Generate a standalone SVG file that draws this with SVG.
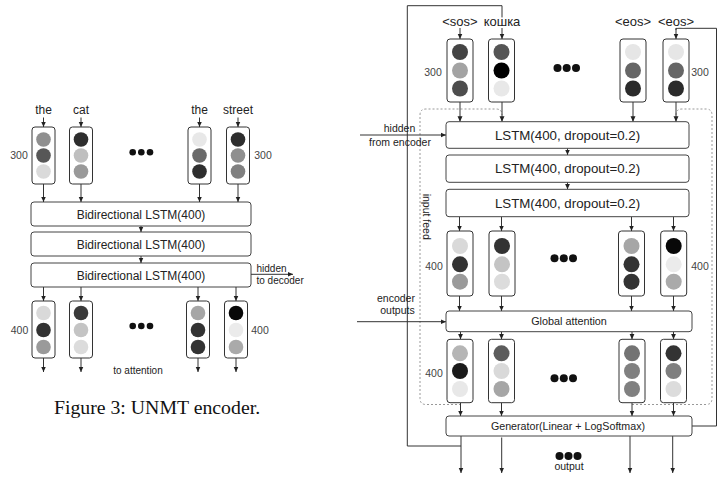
<svg xmlns="http://www.w3.org/2000/svg" width="718" height="488" viewBox="0 0 718 488">
<defs>
<marker id="ah" viewBox="0 0 6 6" refX="6" refY="3" markerWidth="5.5" markerHeight="5.5" orient="auto" markerUnits="userSpaceOnUse"><path d="M0,0.3 L6,3 L0,5.7 z" fill="#222"/></marker>
<style>
text{font-family:"Liberation Sans",Arial,sans-serif;fill:#222}
.cell{fill:#fff;stroke:#333;stroke-width:1}
.box{fill:#fff;stroke:#444;stroke-width:1}
.ln{fill:none;stroke:#333;stroke-width:1}
.arr{fill:none;stroke:#333;stroke-width:1;marker-end:url(#ah)}
.dot{fill:none;stroke:#999;stroke-width:1;stroke-dasharray:2 2}
.w{font-size:12px;text-anchor:middle}
.wd{font-size:13px;text-anchor:middle;paint-order:stroke;stroke:#fff;stroke-width:3px}
.n{font-size:10.5px;text-anchor:middle;fill:#444}
.s{font-size:10px;text-anchor:middle}
.dd{fill:#111}
</style>
</defs>

<!-- ===== Encoder (left) ===== -->
<g id="enc-words">
<text class="w" x="43.5" y="114">the</text>
<text class="w" x="81" y="114">cat</text>
<text class="w" x="199.5" y="114">the</text>
<text class="w" x="238" y="114">street</text>
</g>
<g id="enc-in-1"><rect class="cell" x="32" y="127" width="23" height="57" rx="3"/><circle cx="43.5" cy="139.5" r="7.3" fill="#8f8f8f"/><circle cx="43.5" cy="155.5" r="7.3" fill="#575757"/><circle cx="43.5" cy="171.5" r="7.3" fill="#dadada"/></g>
<g id="enc-in-2"><rect class="cell" x="69.5" y="127" width="23" height="57" rx="3"/><circle cx="81" cy="139.5" r="7.3" fill="#2e2e2e"/><circle cx="81" cy="155.5" r="7.3" fill="#bfbfbf"/><circle cx="81" cy="171.5" r="7.3" fill="#999"/></g>
<g id="enc-in-3"><rect class="cell" x="188" y="127" width="23" height="57" rx="3"/><circle cx="199.5" cy="139.5" r="7.3" fill="#e8e8e8"/><circle cx="199.5" cy="155.5" r="7.3" fill="#6a6a6a"/><circle cx="199.5" cy="171.5" r="7.3" fill="#2e2e2e"/></g>
<g id="enc-in-4"><rect class="cell" x="226.5" y="127" width="23" height="57" rx="3"/><circle cx="238" cy="139.5" r="7.3" fill="#2e2e2e"/><circle cx="238" cy="155.5" r="7.3" fill="#8f8f8f"/><circle cx="238" cy="171.5" r="7.3" fill="#808080"/></g>
<g id="enc-labels">
<text class="n" x="19" y="159">300</text>
<text class="n" x="263" y="159">300</text>
<circle class="dd" cx="132.7" cy="152.3" r="3.3"/><circle class="dd" cx="141.3" cy="152.3" r="3.3"/><circle class="dd" cx="150" cy="152.3" r="3.3"/>
<text class="n" x="19.5" y="334">400</text>
<text class="n" x="260" y="334">400</text>
<circle class="dd" cx="132.7" cy="326" r="3.3"/><circle class="dd" cx="141.3" cy="326" r="3.3"/><circle class="dd" cx="150" cy="326" r="3.3"/>
<text class="s" x="256.5" y="272" style="text-anchor:start">hidden</text>
<text class="s" x="256.5" y="284" style="text-anchor:start">to decoder</text>
<text class="s" x="138" y="373.5">to attention</text>
</g>
<g id="enc-lstm-1"><rect class="box" x="31" y="202" width="220" height="24" rx="3"/><text x="141" y="218.5" style="font-size:12px;text-anchor:middle">Bidirectional LSTM(400)</text></g>
<g id="enc-lstm-2"><rect class="box" x="31" y="232" width="220" height="24" rx="3"/><text x="141" y="248.5" style="font-size:12px;text-anchor:middle">Bidirectional LSTM(400)</text></g>
<g id="enc-lstm-3"><rect class="box" x="31" y="263" width="220" height="24" rx="3"/><text x="141" y="279.5" style="font-size:12px;text-anchor:middle">Bidirectional LSTM(400)</text></g>
<g id="enc-out-1"><rect class="cell" x="32" y="301" width="23" height="57" rx="3"/><circle cx="43.5" cy="313" r="7.3" fill="#d9d9d9"/><circle cx="43.5" cy="330" r="7.3" fill="#333"/><circle cx="43.5" cy="347" r="7.3" fill="#9a9a9a"/></g>
<g id="enc-out-2"><rect class="cell" x="69.5" y="301" width="23" height="57" rx="3"/><circle cx="81" cy="313" r="7.3" fill="#3a3a3a"/><circle cx="81" cy="330" r="7.3" fill="#c4c4c4"/><circle cx="81" cy="347" r="7.3" fill="#dcdcdc"/></g>
<g id="enc-out-3"><rect class="cell" x="186.5" y="301" width="23" height="57" rx="3"/><circle cx="198" cy="313" r="7.3" fill="#a6a6a6"/><circle cx="198" cy="330" r="7.3" fill="#333"/><circle cx="198" cy="347" r="7.3" fill="#333"/></g>
<g id="enc-out-4"><rect class="cell" x="224.5" y="301" width="23" height="57" rx="3"/><circle cx="236" cy="313" r="7.3" fill="#080808"/><circle cx="236" cy="330" r="7.3" fill="#ebebeb"/><circle cx="236" cy="347" r="7.3" fill="#aaa"/></g>

<text id="caption" x="157" y="414" style="font-family:'Liberation Serif','Times New Roman',serif;font-size:19.8px;text-anchor:middle;fill:#111">Figure 3: UNMT encoder.</text>

<g id="enc-connectors">
<path class="arr" d="M43.5,117.5 V127"/><path class="arr" d="M81,117.5 V127"/><path class="arr" d="M199.5,117.5 V127"/><path class="arr" d="M238,117.5 V127"/>
<path class="arr" d="M43.5,184 V202"/><path class="arr" d="M81,184 V202"/><path class="arr" d="M199.5,184 V202"/><path class="arr" d="M238,184 V202"/>
<path class="arr" d="M141,226 V232"/><path class="arr" d="M141,256 V263"/>
<path class="arr" d="M251,274.3 H293"/>
<path class="arr" d="M43.5,287 V301"/><path class="arr" d="M81,287 V301"/><path class="arr" d="M198,287 V301"/><path class="arr" d="M236,287 V301"/>
<path class="arr" d="M43.5,358 V372"/><path class="arr" d="M81,358 V372"/><path class="arr" d="M198,358 V372"/><path class="arr" d="M236,358 V372"/>
</g>

<!-- ===== Decoder (right) ===== -->
<g id="dec-connectors">
<path class="dot" d="M461,404.5 H426 Q420,404.5 420,398.5 V115 Q420,109 426,109 H496 Q502,109 502,115"/>
<path class="dot" d="M632,404.5 H706 Q712,404.5 712,398.5 V115 Q712,109 706,109 H682 Q676,109 676,115"/>
<path class="ln" d="M461,446 H407.3 V5.7 H502 V20"/>
<path class="arr" d="M502,28 V39"/>
<path class="ln" d="M692,426 H716.5 V28.3 H676 V30"/>
<path class="arr" d="M676,28.3 V39"/>
<path class="arr" d="M460,28 V39"/>
<path class="arr" d="M460,102 V121.7"/><path class="arr" d="M502,102 V121.7"/><path class="arr" d="M633,102 V121.7"/><path class="arr" d="M676,102 V121.7"/>
<path class="arr" d="M567.5,148.3 V155"/><path class="arr" d="M567.5,182.3 V189.3"/>
<path class="arr" d="M360,135 H446"/>
<path class="arr" d="M459.5,216.7 V231"/><path class="arr" d="M501.5,216.7 V231"/><path class="arr" d="M631.5,216.7 V231"/><path class="arr" d="M673.5,216.7 V231"/>
<path class="arr" d="M459.5,296 V311"/><path class="arr" d="M501.5,296 V311"/><path class="arr" d="M631.5,296 V311"/><path class="arr" d="M673.5,296 V311"/>
<path class="arr" d="M357,321.7 H446"/>
<path class="arr" d="M460.5,331.7 V339.3"/><path class="arr" d="M501.5,331.7 V339.3"/><path class="arr" d="M632,331.7 V339.3"/><path class="arr" d="M673.5,331.7 V339.3"/>
<path class="arr" d="M460.5,403 V416"/><path class="arr" d="M501.5,403 V416"/><path class="arr" d="M632,403 V416"/><path class="arr" d="M673.5,403 V416"/>
<path class="arr" d="M461,436 V473"/><path class="arr" d="M501.7,437.5 V473"/><path class="arr" d="M630,436 V473"/><path class="arr" d="M672.7,436 V473"/>
</g>

<g id="dec-words">
<text class="wd" x="460" y="25.5">&lt;sos&gt;</text>
<text class="wd" x="502" y="25.5">кошка</text>
<text class="wd" x="633" y="25.5">&lt;eos&gt;</text>
<text class="wd" x="676" y="25.5">&lt;eos&gt;</text>
</g>
<g id="dec-in-1"><rect class="cell" x="447" y="39" width="26" height="63" rx="3"/><circle cx="460" cy="52" r="8" fill="#444"/><circle cx="460" cy="70.5" r="8" fill="#a3a3a3"/><circle cx="460" cy="88.5" r="8" fill="#4d4d4d"/></g>
<g id="dec-in-2"><rect class="cell" x="488.5" y="39" width="26" height="63" rx="3"/><circle cx="501.5" cy="52" r="8" fill="#555"/><circle cx="501.5" cy="70.5" r="8" fill="#000"/><circle cx="501.5" cy="88.5" r="8" fill="#e8e8e8"/></g>
<g id="dec-in-3"><rect class="cell" x="620" y="39" width="26" height="63" rx="3"/><circle cx="633" cy="52" r="8" fill="#e6e6e6"/><circle cx="633" cy="70.5" r="8" fill="#666"/><circle cx="633" cy="88.5" r="8" fill="#2b2b2b"/></g>
<g id="dec-in-4"><rect class="cell" x="663" y="39" width="26" height="63" rx="3"/><circle cx="676" cy="52" r="8" fill="#e6e6e6"/><circle cx="676" cy="70.5" r="8" fill="#666"/><circle cx="676" cy="88.5" r="8" fill="#2b2b2b"/></g>

<g id="dec-lstm-1"><rect class="box" x="446" y="121.7" width="243" height="26.6" rx="3"/><text x="567.5" y="139.8" style="font-size:13.3px;text-anchor:middle">LSTM(400, dropout=0.2)</text></g>
<g id="dec-lstm-2"><rect class="box" x="446" y="155" width="243" height="27.3" rx="3"/><text x="567.5" y="173.4" style="font-size:13.3px;text-anchor:middle">LSTM(400, dropout=0.2)</text></g>
<g id="dec-lstm-3"><rect class="box" x="446" y="189.3" width="243" height="27.4" rx="3"/><text x="567.5" y="207.7" style="font-size:13.3px;text-anchor:middle">LSTM(400, dropout=0.2)</text></g>

<g id="dec-h-1"><rect class="cell" x="447" y="231" width="26" height="65" rx="3"/><circle cx="460" cy="246" r="8" fill="#d9d9d9"/><circle cx="460" cy="264.3" r="8" fill="#333"/><circle cx="460" cy="281.7" r="8" fill="#9a9a9a"/></g>
<g id="dec-h-2"><rect class="cell" x="489" y="231" width="26" height="65" rx="3"/><circle cx="502" cy="246" r="8" fill="#333"/><circle cx="502" cy="264.3" r="8" fill="#c4c4c4"/><circle cx="502" cy="281.7" r="8" fill="#dcdcdc"/></g>
<g id="dec-h-3"><rect class="cell" x="618.5" y="231" width="26" height="65" rx="3"/><circle cx="631.5" cy="246" r="8" fill="#a6a6a6"/><circle cx="631.5" cy="264.3" r="8" fill="#333"/><circle cx="631.5" cy="281.7" r="8" fill="#333"/></g>
<g id="dec-h-4"><rect class="cell" x="660.7" y="231" width="26" height="65" rx="3"/><circle cx="673.7" cy="246" r="8" fill="#080808"/><circle cx="673.7" cy="264.3" r="8" fill="#ebebeb"/><circle cx="673.7" cy="281.7" r="8" fill="#aaa"/></g>

<g id="dec-attn"><rect class="box" x="446" y="311" width="246" height="20.7" rx="3"/><text x="569" y="325.3" style="font-size:10.8px;text-anchor:middle">Global attention</text></g>

<g id="dec-a-1"><rect class="cell" x="447" y="339.3" width="26" height="63.4" rx="3"/><circle cx="460" cy="353.3" r="8" fill="#b5b5b5"/><circle cx="460" cy="371" r="8" fill="#1a1a1a"/><circle cx="460" cy="389" r="8" fill="#e8e8e8"/></g>
<g id="dec-a-2"><rect class="cell" x="488.5" y="339.3" width="26" height="63.4" rx="3"/><circle cx="501.5" cy="353.3" r="8" fill="#5c5c5c"/><circle cx="501.5" cy="371" r="8" fill="#d9d9d9"/><circle cx="501.5" cy="389" r="8" fill="#a6a6a6"/></g>
<g id="dec-a-3"><rect class="cell" x="619" y="339.3" width="26" height="63.4" rx="3"/><circle cx="632" cy="353.3" r="8" fill="#737373"/><circle cx="632" cy="371" r="8" fill="#808080"/><circle cx="632" cy="389" r="8" fill="#808080"/></g>
<g id="dec-a-4"><rect class="cell" x="660.5" y="339.3" width="26" height="63.4" rx="3"/><circle cx="673.5" cy="353.3" r="8" fill="#333"/><circle cx="673.5" cy="371" r="8" fill="#7f7f7f"/><circle cx="673.5" cy="389" r="8" fill="#dcdcdc"/></g>

<g id="dec-gen"><rect class="box" x="446" y="416" width="246" height="20" rx="3"/><text x="568" y="429.8" style="font-size:10.7px;text-anchor:middle">Generator(Linear + LogSoftmax)</text></g>

<g id="dec-labels">
<text class="n" x="433" y="75.5">300</text>
<text class="n" x="700" y="75.5">300</text>
<circle class="dd" cx="557.5" cy="68" r="4"/><circle class="dd" cx="566.7" cy="68" r="4"/><circle class="dd" cx="576" cy="68" r="4"/>
<text class="n" x="434" y="269.5">400</text>
<text class="n" x="700" y="269.5">400</text>
<circle class="dd" cx="554.5" cy="258.3" r="4"/><circle class="dd" cx="563.8" cy="258.3" r="4"/><circle class="dd" cx="573" cy="258.3" r="4"/>
<text class="n" x="434" y="376.5">400</text>
<circle class="dd" cx="554.5" cy="378.3" r="4"/><circle class="dd" cx="563.8" cy="378.3" r="4"/><circle class="dd" cx="573" cy="378.3" r="4"/>
<circle class="dd" cx="559.5" cy="456" r="4"/><circle class="dd" cx="568.5" cy="456" r="4"/><circle class="dd" cx="577.5" cy="456" r="4"/>
<text x="569" y="470" style="font-size:10.5px;text-anchor:middle">output</text>
<text x="399.5" y="132" style="font-size:10.5px;text-anchor:middle">hidden</text>
<text x="400" y="146" style="font-size:10.5px;text-anchor:middle">from encoder</text>
<text x="396" y="301.5" style="font-size:10.5px;text-anchor:middle">encoder</text>
<text x="397.5" y="313.5" style="font-size:10.5px;text-anchor:middle">outputs</text>
<text transform="translate(426,216.7) rotate(90)" y="3.5" style="font-size:10.5px;text-anchor:middle">input feed</text>
</g>
</svg>
